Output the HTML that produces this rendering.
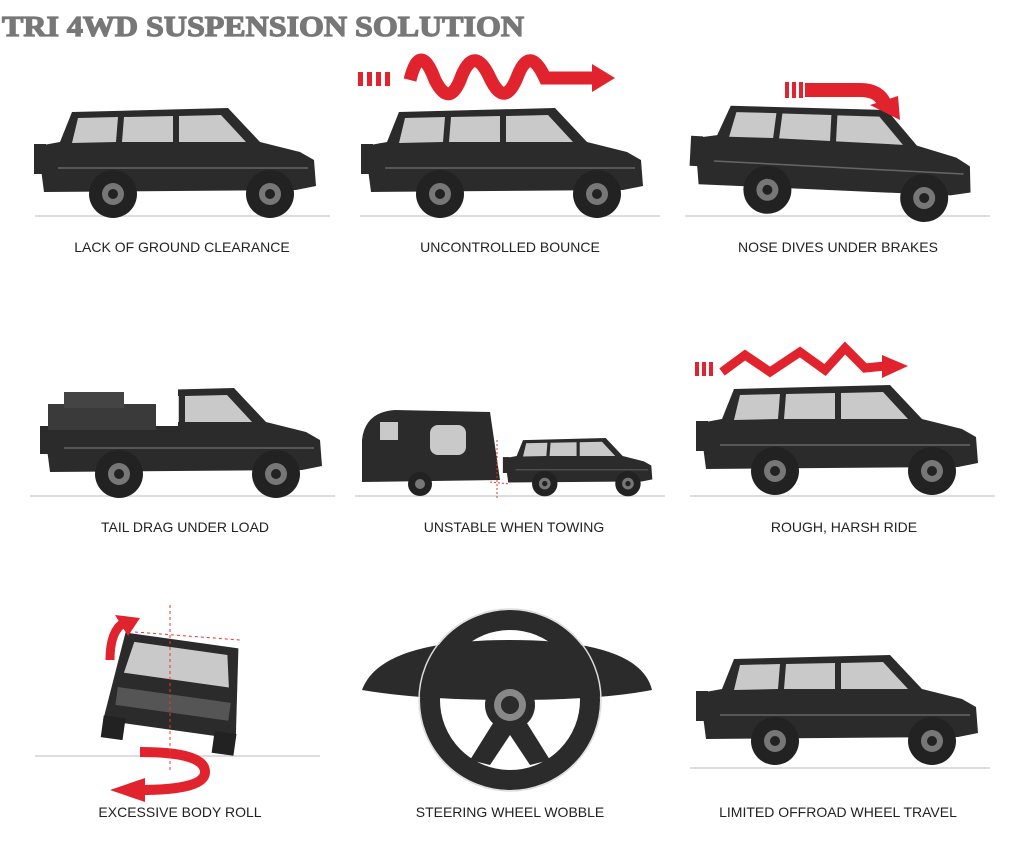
<!DOCTYPE html>
<html><head><meta charset="utf-8"><style>
html,body{margin:0;padding:0;background:#fff;width:1024px;height:853px;overflow:hidden}
svg{display:block}
</style></head><body>
<svg width="1024" height="853" viewBox="0 0 1024 853" xmlns="http://www.w3.org/2000/svg">
<defs>
<g id="suv">
 <path d="M0,38 L22,34 L34,4 L190,0 L222,34 L262,44 L276,52 L278,78 L258,82 L6,84 Z" fill="#2b2b2b"/>
 <rect x="-4" y="36" width="12" height="30" fill="#2b2b2b"/>
 <path d="M40,10 L80,9 L78,34 L34,35 Z" fill="#c9c9c9"/>
 <path d="M86,9 L135,8 L135,34 L84,34 Z" fill="#c9c9c9"/>
 <path d="M141,8 L183,7 L208,34 L141,34 Z" fill="#c9c9c9"/>
 <path d="M20,60 L270,60" stroke="#666" stroke-width="1.5"/>
 <circle cx="75" cy="86" r="24" fill="#222"/><circle cx="75" cy="86" r="11" fill="#777"/><circle cx="75" cy="86" r="5" fill="#222"/>
 <circle cx="232" cy="86" r="24" fill="#222"/><circle cx="232" cy="86" r="11" fill="#777"/><circle cx="232" cy="86" r="5" fill="#222"/>
</g>
</defs>
<text x="2" y="36" font-family="Liberation Serif, serif" font-weight="bold" font-size="28" fill="#777" stroke="#777" stroke-width="1.2" textLength="522" lengthAdjust="spacingAndGlyphs">TRI 4WD SUSPENSION SOLUTION</text>

<g font-family="Liberation Sans, sans-serif" font-size="14" fill="#222" text-anchor="middle">
<text x="182" y="252">LACK OF GROUND CLEARANCE</text>
<text x="510" y="252">UNCONTROLLED BOUNCE</text>
<text x="838" y="252">NOSE DIVES UNDER BRAKES</text>
<text x="185" y="532">TAIL DRAG UNDER LOAD</text>
<text x="514" y="532">UNSTABLE WHEN TOWING</text>
<text x="844" y="532">ROUGH, HARSH RIDE</text>
<text x="180" y="817">EXCESSIVE BODY ROLL</text>
<text x="510" y="817">STEERING WHEEL WOBBLE</text>
<text x="838" y="817">LIMITED OFFROAD WHEEL TRAVEL</text>
</g>

<g stroke="#ddd" stroke-width="2">
<line x1="35" y1="216" x2="330" y2="216"/><line x1="360" y1="216" x2="660" y2="216"/><line x1="685" y1="216" x2="990" y2="216"/>
<line x1="30" y1="496" x2="335" y2="496"/><line x1="355" y1="496" x2="665" y2="496"/><line x1="690" y1="496" x2="995" y2="496"/>
<line x1="35" y1="756" x2="320" y2="756"/><line x1="690" y1="768" x2="990" y2="768"/>
</g>

<use href="#suv" transform="translate(38,108)"/>
<use href="#suv" transform="translate(365,108)"/>
<use href="#suv" transform="translate(697,100) rotate(3)"/>
<g transform="translate(44,388)">
 <use href="#suv"/>
 <rect x="-4" y="0" width="138" height="38" fill="#fff"/>
 <rect x="4" y="16" width="108" height="26" fill="#3a3a3a"/>
 <rect x="20" y="4" width="60" height="16" fill="#444"/>
</g>
<use href="#suv" transform="translate(700,385)"/>
<use href="#suv" transform="translate(700,655)"/>
<path d="M362,440 Q365,412 395,410 L490,412 L500,480 L362,482 Z" fill="#2b2b2b"/>
<rect x="430" y="425" width="36" height="30" rx="8" fill="#c9c9c9"/>
<rect x="380" y="422" width="18" height="18" fill="#c9c9c9"/>
<circle cx="420" cy="484" r="12" fill="#222"/><circle cx="420" cy="484" r="5" fill="#777"/>
<use href="#suv" transform="translate(505,438) scale(0.53)"/>
<line x1="490" y1="482" x2="510" y2="484" stroke="#e33" stroke-dasharray="2,2"/>
<line x1="497" y1="440" x2="497" y2="500" stroke="#e33" stroke-dasharray="2,2"/>
<path d="M410,80 Q420,40 435,80 Q450,110 462,75 Q475,45 490,78 Q505,110 518,75 Q530,45 545,78 L595,78" fill="none" stroke="#e0232c" stroke-width="13"/>
<path d="M592,64 L615,78 L592,92 Z" fill="#e0232c"/>
<g fill="#e0232c"><rect x="358" y="72" width="5" height="14"/><rect x="367" y="72" width="5" height="14"/><rect x="376" y="72" width="5" height="14"/><rect x="385" y="72" width="5" height="14"/></g>
<path d="M805,90 L860,90 Q880,90 885,105" fill="none" stroke="#e0232c" stroke-width="14"/>
<path d="M870,105 L900,120 L898,96 Z" fill="#e0232c"/>
<g fill="#e0232c"><rect x="785" y="82" width="4" height="16"/><rect x="792" y="82" width="4" height="16"/><rect x="799" y="82" width="4" height="16"/></g>
<path d="M722,372 L745,355 L770,372 L800,352 L825,370 L845,348 L865,368 L885,366" fill="none" stroke="#e0232c" stroke-width="9"/>
<path d="M882,355 L908,366 L882,378 Z" fill="#e0232c"/>
<g fill="#e0232c"><rect x="695" y="362" width="4" height="14"/><rect x="702" y="362" width="4" height="14"/><rect x="709" y="362" width="4" height="14"/></g>
<g transform="rotate(8 175 690)">
 <path d="M118,640 L232,640 L242,730 L108,730 Z" fill="#2b2b2b"/>
 <path d="M128,648 L222,648 L228,680 L122,680 Z" fill="#c9c9c9"/>
 <rect x="118" y="695" width="114" height="18" fill="#555"/>
 <rect x="108" y="725" width="22" height="22" fill="#222"/><rect x="220" y="725" width="22" height="22" fill="#222"/>
</g>
<path d="M110,660 Q110,630 125,622" fill="none" stroke="#e0232c" stroke-width="9"/>
<path d="M115,615 L140,618 L128,636 Z" fill="#e0232c"/>
<path d="M140,752 Q205,752 205,772 Q205,790 140,790" fill="none" stroke="#e0232c" stroke-width="10"/>
<path d="M145,778 L110,790 L145,802 Z" fill="#e0232c"/>
<g stroke="#e33" stroke-dasharray="3,3" fill="none"><line x1="170" y1="605" x2="170" y2="770"/><line x1="135" y1="632" x2="240" y2="640"/></g>
<path d="M362,690 Q380,640 510,640 Q640,640 652,690 Q600,700 510,700 Q420,700 362,690 Z" fill="#2b2b2b"/>
<circle cx="510" cy="700" r="80" fill="none" stroke="#2b2b2b" stroke-width="20"/>
<circle cx="510" cy="700" r="91" fill="none" stroke="#ddd" stroke-width="1.5"/>
<path d="M432,690 L485,690 L495,720 L470,760 L490,765 L510,735 L530,765 L550,760 L525,720 L535,690 L588,690 L588,675 L432,675 Z" fill="#2b2b2b"/>
<circle cx="510" cy="705" r="25" fill="#2b2b2b"/><circle cx="510" cy="705" r="16" fill="#888"/><circle cx="510" cy="705" r="9" fill="#2b2b2b"/>
</svg>
</body></html>
